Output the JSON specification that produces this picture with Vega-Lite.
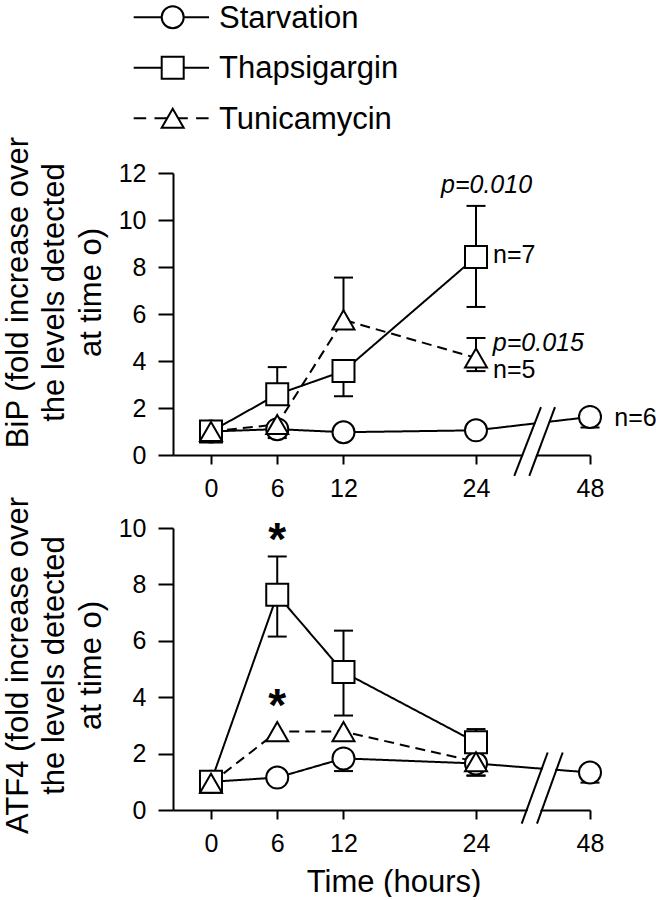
{
  "$schema": "https://vega.github.io/schema/vega-lite/v6.json",
  "background": "white",
  "padding": {"left": 2, "top": 2, "right": 0, "bottom": 0},
  "config": {
    "view": {"stroke": null},
    "font": "Liberation Sans",
    "text": {"font": "Liberation Sans", "color": "black"},
    "axis": {
      "domainColor": "black", "domainWidth": 2, "tickColor": "black", "tickWidth": 2,
      "labelColor": "black", "labelFont": "Liberation Sans", "labelFontSize": 25,
      "titleFont": "Liberation Sans", "titleFontSize": 31, "titleFontWeight": "normal", "titleColor": "black",
      "grid": false, "labelFlush": false, "labelOverlap": false
    }
  },
  "datasets": {
    "legend": [
      {"series": "Starvation"},
      {"series": "Thapsigargin"},
      {"series": "Tunicamycin"}
    ],
    "pts": [
      {"panel": "BiP", "series": "Starvation", "t": 0, "v": 1.0},
      {"panel": "BiP", "series": "Starvation", "t": 6, "v": 1.1},
      {"panel": "BiP", "series": "Starvation", "t": 12, "v": 0.97},
      {"panel": "BiP", "series": "Starvation", "t": 24, "v": 1.05},
      {"panel": "BiP", "series": "Starvation", "t": 48, "v": 1.62},
      {"panel": "BiP", "series": "Thapsigargin", "t": 0, "v": 1.0},
      {"panel": "BiP", "series": "Thapsigargin", "t": 6, "v": 2.58},
      {"panel": "BiP", "series": "Thapsigargin", "t": 12, "v": 3.57},
      {"panel": "BiP", "series": "Thapsigargin", "t": 24, "v": 8.43},
      {"panel": "BiP", "series": "Tunicamycin", "t": 0, "v": 1.0},
      {"panel": "BiP", "series": "Tunicamycin", "t": 6, "v": 1.3},
      {"panel": "BiP", "series": "Tunicamycin", "t": 12, "v": 5.75},
      {"panel": "BiP", "series": "Tunicamycin", "t": 24, "v": 4.13},
      {"panel": "ATF4", "series": "Starvation", "t": 0, "v": 1.0},
      {"panel": "ATF4", "series": "Starvation", "t": 6, "v": 1.15},
      {"panel": "ATF4", "series": "Starvation", "t": 12, "v": 1.83},
      {"panel": "ATF4", "series": "Starvation", "t": 24, "v": 1.65},
      {"panel": "ATF4", "series": "Starvation", "t": 48, "v": 1.33},
      {"panel": "ATF4", "series": "Thapsigargin", "t": 0, "v": 1.0},
      {"panel": "ATF4", "series": "Thapsigargin", "t": 6, "v": 7.63},
      {"panel": "ATF4", "series": "Thapsigargin", "t": 12, "v": 4.89},
      {"panel": "ATF4", "series": "Thapsigargin", "t": 24, "v": 2.4},
      {"panel": "ATF4", "series": "Tunicamycin", "t": 0, "v": 0.95},
      {"panel": "ATF4", "series": "Tunicamycin", "t": 6, "v": 2.78},
      {"panel": "ATF4", "series": "Tunicamycin", "t": 12, "v": 2.78},
      {"panel": "ATF4", "series": "Tunicamycin", "t": 24, "v": 1.71}
    ],
    "errs": [
      {"panel": "BiP", "series": "Starvation", "t": 6, "v": 1.1, "e": 0.72},
      {"panel": "BiP", "series": "Starvation", "t": 48, "v": 1.62, "e": 1.17},
      {"panel": "BiP", "series": "Thapsigargin", "t": 6, "v": 2.58, "e": 3.74},
      {"panel": "BiP", "series": "Thapsigargin", "t": 12, "v": 3.57, "e": 2.5},
      {"panel": "BiP", "series": "Thapsigargin", "t": 24, "v": 8.43, "e": 10.6},
      {"panel": "BiP", "series": "Thapsigargin", "t": 24, "v": 8.43, "e": 6.3},
      {"panel": "BiP", "series": "Tunicamycin", "t": 12, "v": 5.75, "e": 7.55},
      {"panel": "BiP", "series": "Tunicamycin", "t": 24, "v": 4.13, "e": 4.98},
      {"panel": "BiP", "series": "Tunicamycin", "t": 24, "v": 4.13, "e": 3.57},
      {"panel": "ATF4", "series": "Starvation", "t": 12, "v": 1.83, "e": 1.38},
      {"panel": "ATF4", "series": "Starvation", "t": 24, "v": 1.65, "e": 1.22},
      {"panel": "ATF4", "series": "Starvation", "t": 48, "v": 1.33, "e": 0.97},
      {"panel": "ATF4", "series": "Thapsigargin", "t": 6, "v": 7.63, "e": 8.99},
      {"panel": "ATF4", "series": "Thapsigargin", "t": 6, "v": 7.63, "e": 6.15},
      {"panel": "ATF4", "series": "Thapsigargin", "t": 12, "v": 4.89, "e": 6.36},
      {"panel": "ATF4", "series": "Thapsigargin", "t": 12, "v": 4.89, "e": 3.35},
      {"panel": "ATF4", "series": "Thapsigargin", "t": 24, "v": 2.4, "e": 2.87},
      {"panel": "ATF4", "series": "Tunicamycin", "t": 24, "v": 1.71, "e": 1.22}
    ],
    "breaks": [
      {"panel": "BiP", "kind": "mask", "t1": 33.64, "v1": -0.89, "t2": 39.16, "v2": 2.04},
      {"panel": "BiP", "kind": "slash", "t1": 32.06, "v1": -0.89, "t2": 37.68, "v2": 2.04},
      {"panel": "BiP", "kind": "slash", "t1": 35.22, "v1": -0.89, "t2": 40.63, "v2": 2.04},
      {"panel": "ATF4", "kind": "mask", "t1": 35.23, "v1": -0.48, "t2": 40.67, "v2": 2.04},
      {"panel": "ATF4", "kind": "slash", "t1": 33.62, "v1": -0.48, "t2": 39.09, "v2": 2.04},
      {"panel": "ATF4", "kind": "slash", "t1": 36.84, "v1": -0.48, "t2": 42.25, "v2": 2.04}
    ],
    "notes": [
      {"panel": "BiP", "kind": "italic", "t": 20.83, "v": 11.16, "label": "p=0.010"},
      {"panel": "BiP", "kind": "italic", "t": 27.55, "v": 4.43, "label": "p=0.015"},
      {"panel": "BiP", "kind": "plain", "t": 27.6, "v": 8.18, "label": "n=7"},
      {"panel": "BiP", "kind": "plain", "t": 27.6, "v": 3.29, "label": "n=5"},
      {"panel": "BiP", "kind": "plain", "t": 53.1, "v": 1.23, "label": "n=6"},
      {"panel": "ATF4", "kind": "star", "t": 6, "v": 9.03, "label": "*"},
      {"panel": "ATF4", "kind": "star", "t": 6, "v": 3.17, "label": "*"}
    ]
  },
  "vconcat": [
    {
      "width": 417, "height": 97,
      "data": {"name": "legend"},
      "layer": [
        {
          "mark": {"type": "rule", "color": "black", "strokeWidth": 2},
          "encoding": {
            "x": {"datum": -39.3, "type": "quantitative", "scale": {"domain": [0, 417], "nice": false, "zero": false}, "axis": null},
            "x2": {"datum": 36},
            "y": {"field": "series", "type": "nominal", "scale": {"type": "point", "padding": 0, "domain": ["Starvation", "Thapsigargin", "Tunicamycin"], "range": [14.3, 115.3]}, "axis": null},
            "strokeDash": {"condition": {"test": "datum.series==='Tunicamycin'", "value": [12.5, 8.3]}, "value": [1, 0]}
          }
        },
        {
          "mark": {"type": "point", "filled": true, "fill": "white", "stroke": "black", "strokeWidth": 2, "size": 484, "opacity": 1},
          "encoding": {
            "x": {"datum": -0.3, "type": "quantitative"},
            "y": {"field": "series", "type": "nominal"},
            "shape": {"condition": [{"test": "datum.series==='Starvation'", "value": "circle"}, {"test": "datum.series==='Thapsigargin'", "value": "square"}], "value": "triangle-up"}
          }
        },
        {
          "mark": {"type": "text", "fontSize": 31, "align": "left", "baseline": "alphabetic", "dy": 10.5, "color": "black"},
          "encoding": {
            "x": {"datum": 46, "type": "quantitative"},
            "y": {"field": "series", "type": "nominal"},
            "text": {"field": "series"}
          }
        }
      ]
    },
    {
      "width": 417, "height": 282,
      "layer": [
        {
          "data": {"name": "pts"},
          "transform": [{"filter": "datum.panel==='BiP'"}],
          "mark": {"type": "line", "color": "black", "strokeWidth": 2},
          "encoding": {
            "x": {"field": "t", "type": "quantitative",
                  "scale": {"domain": [-3.44, 24, 48], "range": [0, 303, 417], "nice": false, "zero": false},
                  "axis": {"values": [0, 6, 12, 24, 48], "tickSize": 9, "labelPadding": 12, "title": null}},
            "y": {"field": "v", "type": "quantitative",
                  "scale": {"domain": [0, 12], "nice": false, "zero": false},
                  "axis": {"values": [0, 2, 4, 6, 8, 10, 12], "tickSize": 15, "labelPadding": 12,
                           "title": ["BiP (fold increase over", "the levels detected", "at time o)"],
                           "titlePadding": 11, "titleLineHeight": 36.5, "titleY": 119}},
            "detail": {"field": "series"},
            "strokeDash": {"condition": {"test": "datum.series==='Tunicamycin'", "value": [10, 6]}, "value": [1, 0]}
          }
        },
        {
          "data": {"name": "errs"},
          "transform": [{"filter": "datum.panel==='BiP'"}],
          "mark": {"type": "rule", "color": "black", "strokeWidth": 2},
          "encoding": {
            "x": {"field": "t", "type": "quantitative"},
            "y": {"field": "v", "type": "quantitative"},
            "y2": {"field": "e"}
          }
        },
        {
          "data": {"name": "errs"},
          "transform": [{"filter": "datum.panel==='BiP'"}],
          "mark": {"type": "point", "shape": "M-1,0L1,0", "size": 361, "filled": false, "stroke": "black", "strokeWidth": 2, "opacity": 1},
          "encoding": {
            "x": {"field": "t", "type": "quantitative"},
            "y": {"field": "e", "type": "quantitative"}
          }
        },
        {
          "data": {"name": "breaks"},
          "transform": [{"filter": "datum.panel==='BiP' && datum.kind==='mask'"}],
          "mark": {"type": "rule", "color": "white", "strokeWidth": 12},
          "encoding": {
            "x": {"field": "t1", "type": "quantitative"},
            "x2": {"field": "t2"},
            "y": {"field": "v1", "type": "quantitative"},
            "y2": {"field": "v2"}
          }
        },
        {
          "data": {"name": "breaks"},
          "transform": [{"filter": "datum.panel==='BiP' && datum.kind==='slash'"}],
          "mark": {"type": "rule", "color": "black", "strokeWidth": 2},
          "encoding": {
            "x": {"field": "t1", "type": "quantitative"},
            "x2": {"field": "t2"},
            "y": {"field": "v1", "type": "quantitative"},
            "y2": {"field": "v2"}
          }
        },
        {
          "data": {"name": "pts"},
          "transform": [{"filter": "datum.panel==='BiP'"}],
          "mark": {"type": "point", "filled": true, "fill": "white", "stroke": "black", "strokeWidth": 2, "size": 484, "opacity": 1},
          "encoding": {
            "x": {"field": "t", "type": "quantitative"},
            "y": {"field": "v", "type": "quantitative"},
            "shape": {"condition": [{"test": "datum.series==='Starvation'", "value": "circle"}, {"test": "datum.series==='Thapsigargin'", "value": "square"}], "value": "triangle-up"}
          }
        },
        {
          "data": {"name": "notes"},
          "transform": [{"filter": "datum.panel==='BiP' && datum.kind==='italic'"}],
          "mark": {"type": "text", "fontSize": 25, "fontStyle": "italic", "align": "left", "baseline": "alphabetic", "color": "black"},
          "encoding": {
            "x": {"field": "t", "type": "quantitative"},
            "y": {"field": "v", "type": "quantitative"},
            "text": {"field": "label"}
          }
        },
        {
          "data": {"name": "notes"},
          "transform": [{"filter": "datum.panel==='BiP' && datum.kind==='plain'"}],
          "mark": {"type": "text", "fontSize": 25, "align": "left", "baseline": "alphabetic", "color": "black"},
          "encoding": {
            "x": {"field": "t", "type": "quantitative"},
            "y": {"field": "v", "type": "quantitative"},
            "text": {"field": "label"}
          }
        }
      ]
    },
    {
      "width": 417, "height": 282,
      "layer": [
        {
          "data": {"name": "pts"},
          "transform": [{"filter": "datum.panel==='ATF4'"}],
          "mark": {"type": "line", "color": "black", "strokeWidth": 2},
          "encoding": {
            "x": {"field": "t", "type": "quantitative",
                  "scale": {"domain": [-3.44, 24, 48], "range": [0, 303, 417], "nice": false, "zero": false},
                  "axis": {"values": [0, 6, 12, 24, 48], "tickSize": 9, "labelPadding": 12, "title": "Time (hours)", "titlePadding": 11, "titleX": 220.5}},
            "y": {"field": "v", "type": "quantitative",
                  "scale": {"domain": [0, 10], "nice": false, "zero": false},
                  "axis": {"values": [0, 2, 4, 6, 8, 10], "tickSize": 15, "labelPadding": 12,
                           "title": ["ATF4 (fold increase over", "the levels detected", "at time o)"],
                           "titlePadding": 11, "titleLineHeight": 36.5, "titleY": 137}},
            "detail": {"field": "series"},
            "strokeDash": {"condition": {"test": "datum.series==='Tunicamycin'", "value": [10, 6]}, "value": [1, 0]}
          }
        },
        {
          "data": {"name": "errs"},
          "transform": [{"filter": "datum.panel==='ATF4'"}],
          "mark": {"type": "rule", "color": "black", "strokeWidth": 2},
          "encoding": {
            "x": {"field": "t", "type": "quantitative"},
            "y": {"field": "v", "type": "quantitative"},
            "y2": {"field": "e"}
          }
        },
        {
          "data": {"name": "errs"},
          "transform": [{"filter": "datum.panel==='ATF4'"}],
          "mark": {"type": "point", "shape": "M-1,0L1,0", "size": 361, "filled": false, "stroke": "black", "strokeWidth": 2, "opacity": 1},
          "encoding": {
            "x": {"field": "t", "type": "quantitative"},
            "y": {"field": "e", "type": "quantitative"}
          }
        },
        {
          "data": {"name": "breaks"},
          "transform": [{"filter": "datum.panel==='ATF4' && datum.kind==='mask'"}],
          "mark": {"type": "rule", "color": "white", "strokeWidth": 12},
          "encoding": {
            "x": {"field": "t1", "type": "quantitative"},
            "x2": {"field": "t2"},
            "y": {"field": "v1", "type": "quantitative"},
            "y2": {"field": "v2"}
          }
        },
        {
          "data": {"name": "breaks"},
          "transform": [{"filter": "datum.panel==='ATF4' && datum.kind==='slash'"}],
          "mark": {"type": "rule", "color": "black", "strokeWidth": 2},
          "encoding": {
            "x": {"field": "t1", "type": "quantitative"},
            "x2": {"field": "t2"},
            "y": {"field": "v1", "type": "quantitative"},
            "y2": {"field": "v2"}
          }
        },
        {
          "data": {"name": "pts"},
          "transform": [{"filter": "datum.panel==='ATF4'"}],
          "mark": {"type": "point", "filled": true, "fill": "white", "stroke": "black", "strokeWidth": 2, "size": 484, "opacity": 1},
          "encoding": {
            "x": {"field": "t", "type": "quantitative"},
            "y": {"field": "v", "type": "quantitative"},
            "shape": {"condition": [{"test": "datum.series==='Starvation'", "value": "circle"}, {"test": "datum.series==='Thapsigargin'", "value": "square"}], "value": "triangle-up"}
          }
        },
        {
          "data": {"name": "notes"},
          "transform": [{"filter": "datum.panel==='ATF4' && datum.kind==='star'"}],
          "mark": {"type": "text", "fontSize": 46, "fontWeight": "bold", "align": "center", "baseline": "alphabetic", "color": "black"},
          "encoding": {
            "x": {"field": "t", "type": "quantitative"},
            "y": {"field": "v", "type": "quantitative"},
            "text": {"field": "label"}
          }
        }
      ]
    }
  ],
  "spacing": 73,
  "bounds": "flush",
  "resolve": {"scale": {"x": "independent", "y": "independent"}}
}
